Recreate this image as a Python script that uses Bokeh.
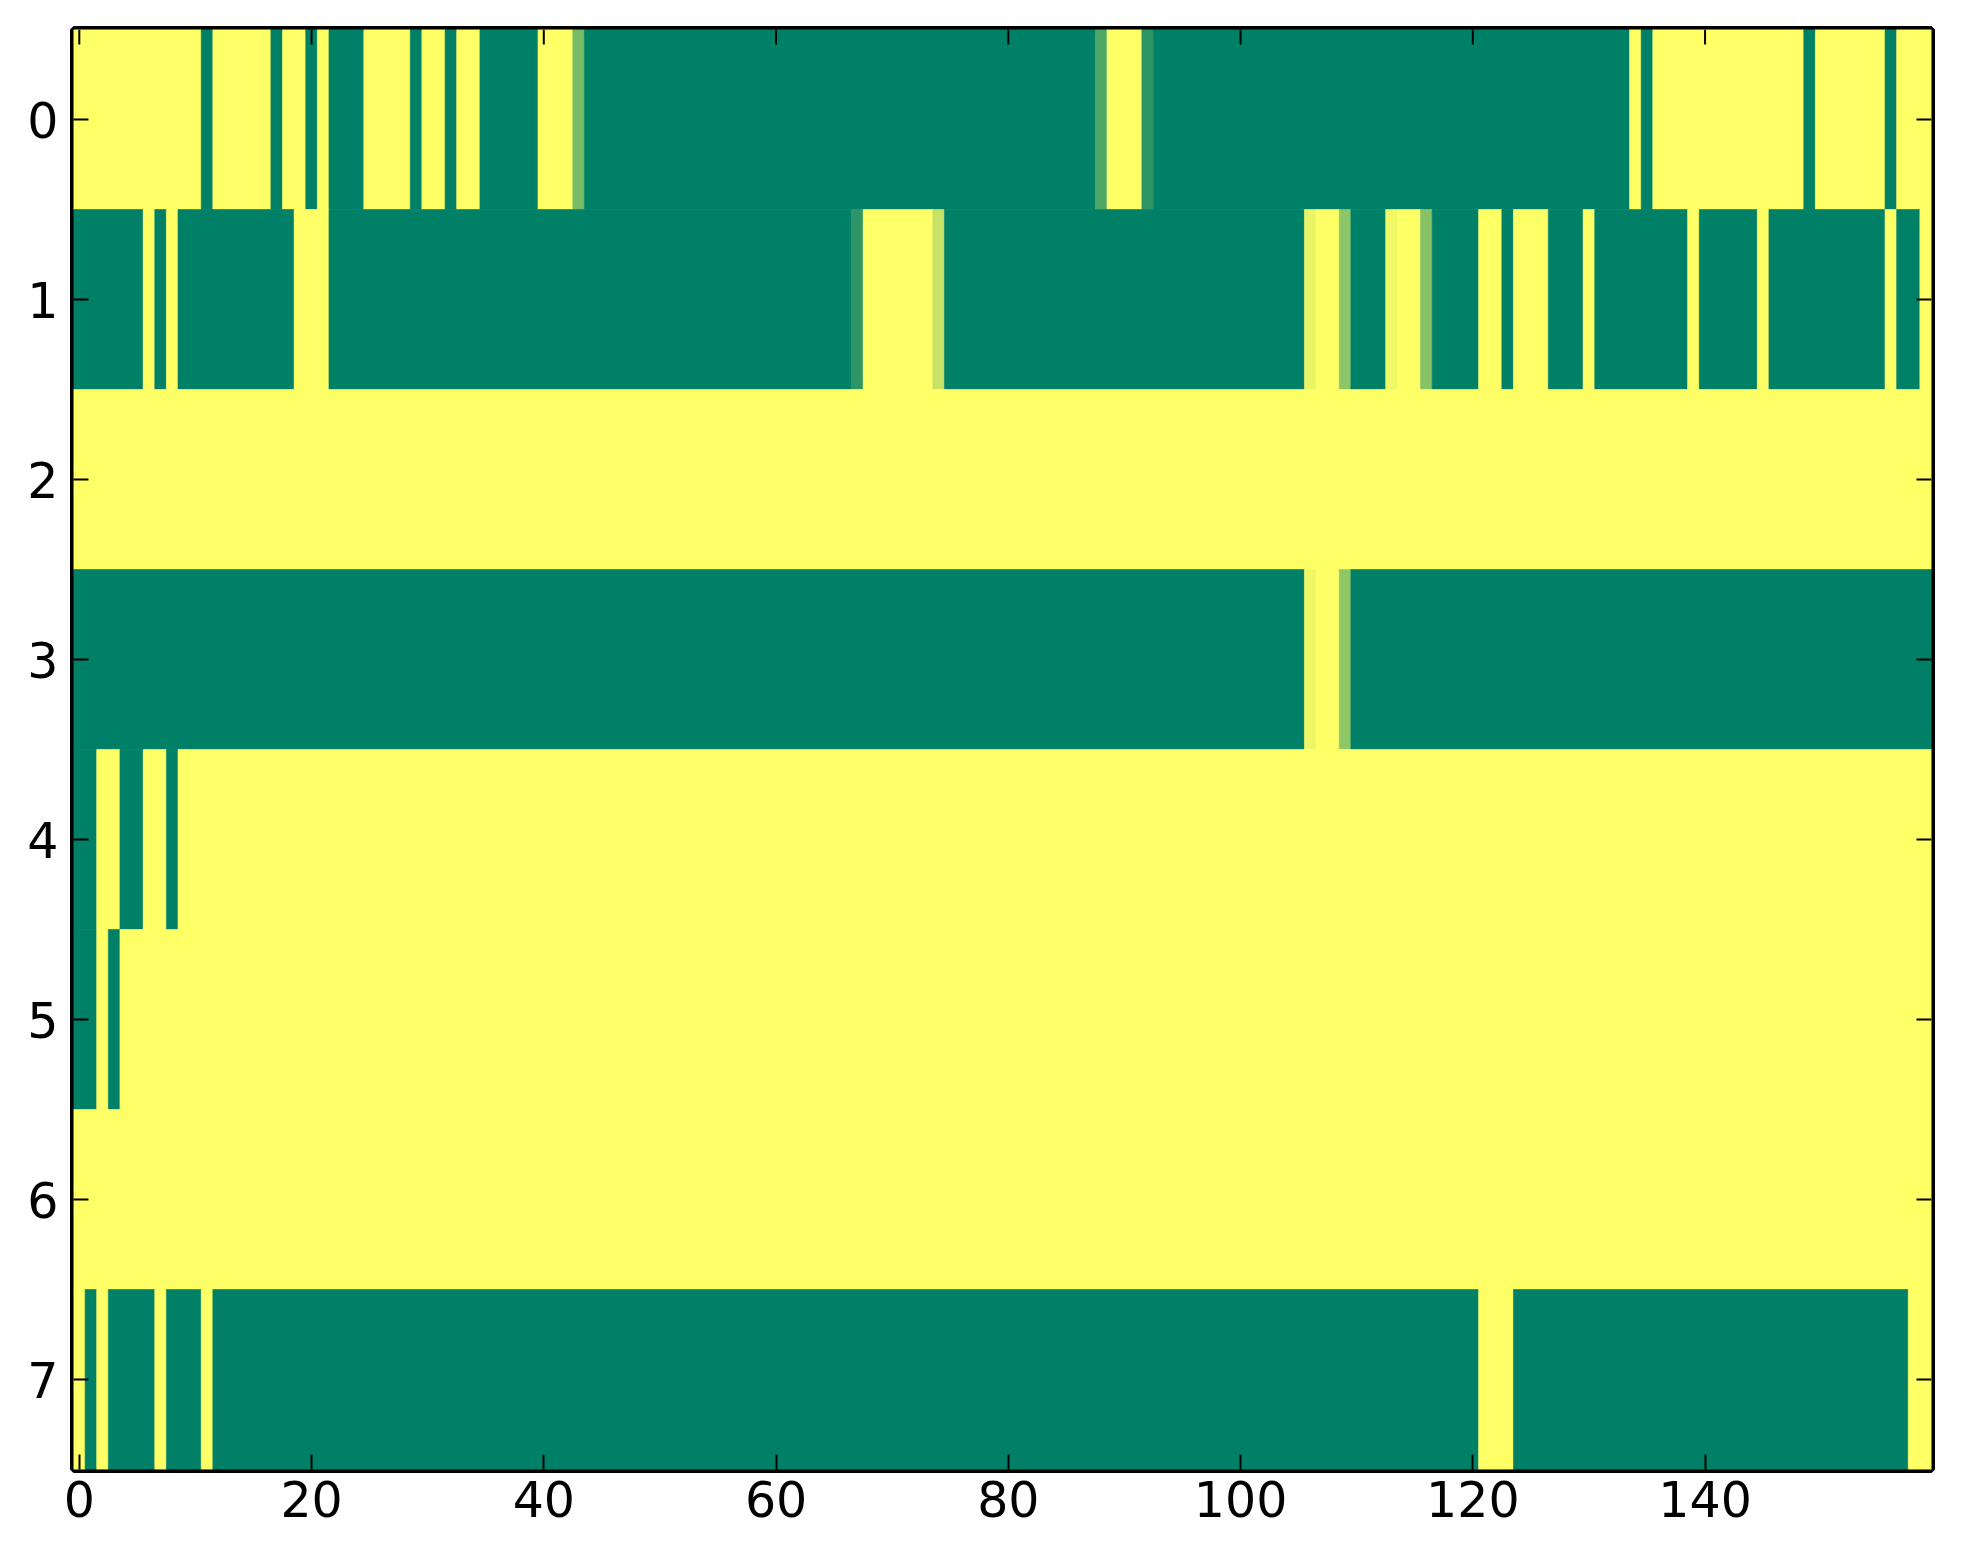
# Requirements: pip3 install bokeh

from bokeh.plotting import figure
from bokeh.models import Range1d, FixedTicker, ColumnDataSource
from bokeh.transform import linear_cmap
from bokeh.embed import file_html
from bokeh.resources import INLINE

# each row of the matrix, written as runs of (value, number of columns)
row0 = [(1, 11), (0, 1), (1, 5), (0, 1), (1, 2), (0, 1), (1, 1), (0, 3), (1, 4), (0, 1),
        (1, 2), (0, 1), (1, 2), (0, 5), (1, 3), (0.47, 1), (0, 44), (0.31, 1), (1, 3),
        (0.18, 1), (0, 41), (1, 1), (0, 1), (1, 13), (0, 1), (1, 6), (0, 1), (1, 3)]
row1 = [(0, 6), (1, 1), (0, 1), (1, 1), (0, 10), (1, 3), (0, 45), (0.18, 1), (1, 6),
        (0.78, 1), (0, 31), (0.91, 1), (1, 2), (0.55, 1), (0, 3), (0.94, 1), (1, 2),
        (0.53, 1), (0, 4), (1, 2), (0, 1), (1, 3), (0, 3), (1, 1), (0, 8), (1, 1),
        (0, 5), (1, 1), (0, 10), (1, 1), (0, 2), (1, 1)]
row2 = [(1, 160)]
row3 = [(0, 106), (0.93, 1), (1, 2), (0.56, 1), (0, 50)]
row4 = [(0, 2), (1, 2), (0, 2), (1, 2), (0, 1), (1, 151)]
row5 = [(0, 2), (1, 1), (0, 1), (1, 156)]
row6 = [(1, 160)]
row7 = [(1, 1), (0, 1), (1, 1), (0, 4), (1, 1), (0, 3), (1, 1), (0, 109), (1, 3),
        (0, 34), (1, 2)]
rows = [row0, row1, row2, row3, row4, row5, row6, row7]

x_ticks = [0, 20, 40, 60, 80, 100, 120, 140]
y_ticks = [0, 1, 2, 3, 4, 5, 6, 7]

# matplotlib "summer" colormap
summer = []
for i in range(256):
    v = i / 255
    summer.append("#%02x%02x%02x" % (round(255 * v), round(255 * (0.5 + 0.5 * v)), 102))

left, right, top, bottom, vals = [], [], [], [], []
for r, runs in enumerate(rows):
    c = 0
    for v, n in runs:
        left.append(c - 0.5)
        right.append(c + n - 0.5)
        top.append(r - 0.5)
        bottom.append(r + 0.5)
        vals.append(v)
        c += n

src = ColumnDataSource(dict(left=left, right=right, top=top, bottom=bottom, v=vals))

FW, FH = 1858, 1440
x0, x1 = -0.5, 159.5
y0, y1 = 7.5, -0.5

p = figure(frame_width=FW, frame_height=FH,
           x_range=Range1d(x0, x1), y_range=Range1d(y0, y1),
           output_backend="svg", toolbar_location=None,
           min_border_left=73, min_border_top=29, min_border_right=20, min_border_bottom=70)

cmap = linear_cmap("v", summer, 0, 1)
p.quad(left="left", right="right", top="top", bottom="bottom", source=src,
       fill_color=cmap, line_color=cmap, line_width=0.6, level="underlay")

p.grid.visible = False
p.outline_line_color = "black"
p.outline_line_width = 7
p.outline_line_alpha = 1

for ax, ticks, standoff in ((p.xaxis[0], x_ticks, 11), (p.yaxis[0], y_ticks, 15)):
    ax.ticker = FixedTicker(ticks=ticks)
    ax.axis_line_color = None
    ax.major_tick_in = 15
    ax.major_tick_out = 0
    ax.major_tick_line_width = 2
    ax.major_tick_line_color = "black"
    ax.minor_tick_line_color = None
    ax.major_label_text_font = "DejaVu Sans"
    ax.major_label_text_font_size = "49px"
    ax.major_label_text_color = "black"
    ax.major_label_standoff = standoff

# inward ticks on the top and right sides, 15px long
tx = 15 * (x1 - x0) / FW
ty = 15 * (y0 - y1) / FH
p.segment(x0=x_ticks, x1=x_ticks, y0=[y1] * len(x_ticks), y1=[y1 + ty] * len(x_ticks),
          line_color="black", line_width=2)
p.segment(x0=[x1] * len(y_ticks), x1=[x1 - tx] * len(y_ticks), y0=y_ticks, y1=y_ticks,
          line_color="black", line_width=2)

open("out.html", "w").write(file_html(p, INLINE))
